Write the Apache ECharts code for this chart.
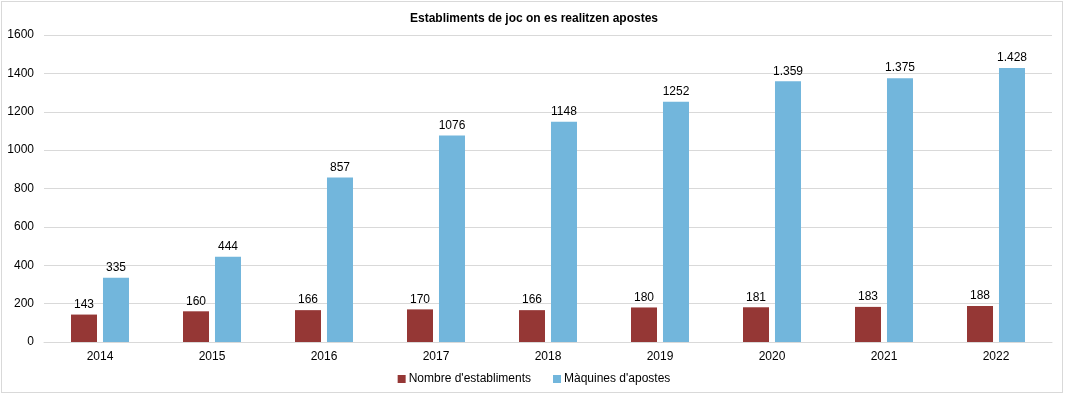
<!DOCTYPE html>
<html><head><meta charset="utf-8">
<script src="https://cdn.jsdelivr.net/npm/echarts@6/dist/echarts.min.js"></script>
<style>html,body{margin:0;padding:0;background:#fff}#c{width:1068px;height:406px}
#frame{position:absolute;left:1px;top:1px;width:1062px;height:392px;border:1px solid #d9d9d9;box-sizing:border-box;pointer-events:none}</style>
</head><body><div id="c"></div><div id="frame"></div>
<script>
const categories = ['2014','2015','2016','2017','2018','2019','2020','2021','2022'];
const establiments = [143,160,166,170,166,180,181,183,188];
const maquines = [335,444,857,1076,1148,1252,1359,1375,1428];
const maquinesLabels = ['335','444','857','1076','1148','1252','1.359','1.375','1.428'];
const yTicks = [0,200,400,600,800,1000,1200,1400,1600];
const font = 'Liberation Sans, Arial, sans-serif';
const chart = echarts.init(document.getElementById('c'));
chart.setOption({
  animation:false,
  textStyle:{fontFamily:font},
  title:{text:'Establiments de joc on es realitzen apostes',left:'center',top:8,
    textStyle:{fontSize:12,fontWeight:'bold',color:'#000',fontFamily:font}},
  legend:{bottom:16,left:'center',itemWidth:8,itemHeight:8,itemGap:22,icon:'rect',
    textStyle:{fontSize:12,color:'#000',fontFamily:font,padding:[0,0,0,-2]}},
  grid:{left:44,right:16,top:35,bottom:64},
  xAxis:{type:'category',data:categories,
    axisLine:{lineStyle:{color:'#d9d9d9'}},axisTick:{show:false},
    axisLabel:{color:'#000',fontSize:12,margin:9,fontFamily:font}},
  yAxis:{type:'value',min:yTicks[0],max:yTicks[yTicks.length-1],interval:200,
    axisLine:{show:false},axisTick:{show:false},
    splitLine:{lineStyle:{color:'#d9d9d9'}},
    axisLabel:{color:'#000',fontSize:12,margin:10,align:'right',fontFamily:font,
      formatter:v=>String(v)}},
  series:[
    {name:"Nombre d'establiments",type:'bar',data:establiments,barWidth:26,barGap:'23%',
     itemStyle:{color:'#953735'},
     label:{show:true,position:'top',color:'#000',fontSize:12,distance:4,fontFamily:font}},
    {name:"Màquines d'apostes",type:'bar',data:maquines,barWidth:26,
     itemStyle:{color:'#72B6DC'},
     label:{show:true,position:'top',color:'#000',fontSize:12,distance:4,fontFamily:font,
       formatter:p=>maquinesLabels[p.dataIndex]}}
  ]
});
</script></body></html>
